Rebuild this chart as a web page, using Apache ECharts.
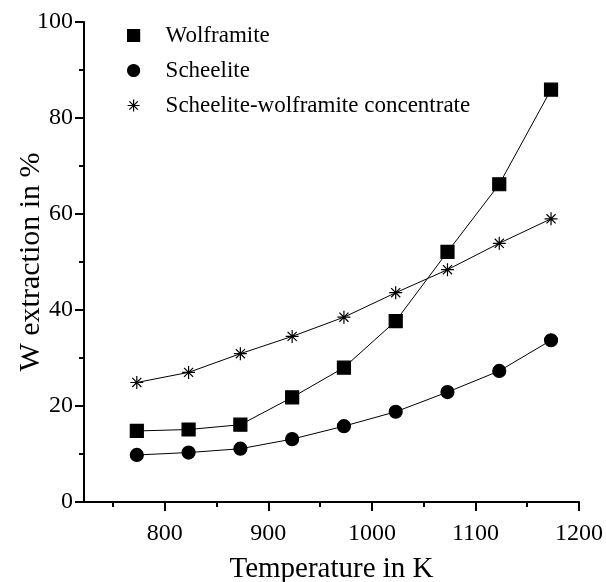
<!DOCTYPE html>
<html>
<head>
<meta charset="utf-8">
<script src="https://cdn.jsdelivr.net/npm/echarts@6/dist/echarts.min.js"></script>
<style>
  html, body { margin: 0; padding: 0; background: #fff; }
  #chart-container { width: 606px; height: 582px; }
</style>
</head>
<body>
<div id="chart-container"></div>
<script>
var dom = document.getElementById('chart-container');
var myChart = echarts.init(dom, null, { renderer: 'canvas' });

// data
var temperatures = [773, 823, 873, 923, 973, 1023, 1073, 1123, 1173];
var wolframite = [14.8, 15.1, 16.1, 21.8, 28.0, 37.7, 52.1, 66.2, 85.9];
var scheelite = [9.8, 10.3, 11.1, 13.1, 15.8, 18.8, 22.9, 27.3, 33.7];
var concentrate = [24.9, 27.0, 30.9, 34.5, 38.5, 43.6, 48.4, 53.9, 59.0];
var seriesNames = ['Wolframite', 'Scheelite', 'Scheelite-wolframite concentrate'];
var xTicks = [800, 900, 1000, 1100, 1200];
var xMinorTicks = [750, 850, 950, 1050, 1150];

var font = "'Liberation Serif', 'Times New Roman', serif";
var star = 'path://M6,0L6,12M0,6L12,6M1.8,1.8L10.2,10.2M10.2,1.8L1.8,10.2';

function pairs(values) {
  return temperatures.map(function (t, i) { return [t, values[i]]; });
}

function makeSeries(name, values, symbol) {
  return {
    name: name,
    type: 'line',
    data: pairs(values),
    symbol: symbol,
    symbolSize: 13,
    lineStyle: { color: '#000', width: 1 },
    itemStyle: { color: '#000', borderColor: '#000', borderWidth: 1.2 },
    emphasis: { disabled: true }
  };
}

var option = {
  animation: false,
  grid: { left: 84, right: 27, top: 22, bottom: 80, containLabel: false, outerBoundsMode: 'none' },
  legend: {
    orient: 'vertical',
    left: 122,
    top: 19,
    itemWidth: 12,
    itemHeight: 12,
    itemGap: 12,
    selectedMode: false,
    itemStyle: { borderColor: '#000', borderWidth: 1.2 },
    textStyle: { fontSize: 23, color: '#000', fontFamily: font, padding: [0, 0, 0, 21] },
    data: [
      { name: seriesNames[0], icon: 'rect' },
      { name: seriesNames[1], icon: 'circle' },
      { name: seriesNames[2], icon: star }
    ]
  },
  xAxis: [
    {
      type: 'value',
      min: 722,
      max: 1200,
      name: 'Temperature in K',
      nameLocation: 'middle',
      nameGap: 53,
      nameTextStyle: { fontSize: 29, color: '#000', fontFamily: font },
      axisLine: { show: true, lineStyle: { color: '#000', width: 2 } },
      axisTick: { show: true, customValues: xTicks, length: 9, lineStyle: { color: '#000', width: 2 } },
      axisLabel: {
        customValues: xTicks, fontSize: 24, margin: 20, color: '#000', fontFamily: font,
        formatter: function (v) { return String(v); }
      },
      splitLine: { show: false }
    },
    {
      type: 'value',
      position: 'bottom',
      min: 722,
      max: 1200,
      axisLine: { show: false },
      axisTick: { show: true, customValues: xMinorTicks, length: 5, lineStyle: { color: '#000', width: 2 } },
      axisLabel: { show: false },
      splitLine: { show: false }
    }
  ],
  yAxis: {
    type: 'value',
    min: 0,
    max: 100,
    interval: 20,
    name: 'W extraction in %',
    nameLocation: 'middle',
    nameGap: 38,
    nameMoveOverlap: false,
    nameTextStyle: { fontSize: 30, color: '#000', fontFamily: font },
    axisLine: { show: true, lineStyle: { color: '#000', width: 2 } },
    axisTick: { show: true, length: 9, lineStyle: { color: '#000', width: 2 } },
    minorTick: { show: true, splitNumber: 2, length: 5, lineStyle: { color: '#000', width: 2 } },
    axisLabel: { fontSize: 24, margin: 11, color: '#000', fontFamily: font },
    splitLine: { show: false },
    minorSplitLine: { show: false }
  },
  series: [
    makeSeries(seriesNames[0], wolframite, 'rect'),
    makeSeries(seriesNames[1], scheelite, 'circle'),
    makeSeries(seriesNames[2], concentrate, star)
  ]
};

myChart.setOption(option);
window.addEventListener('resize', myChart.resize);
</script>
</body>
</html>
